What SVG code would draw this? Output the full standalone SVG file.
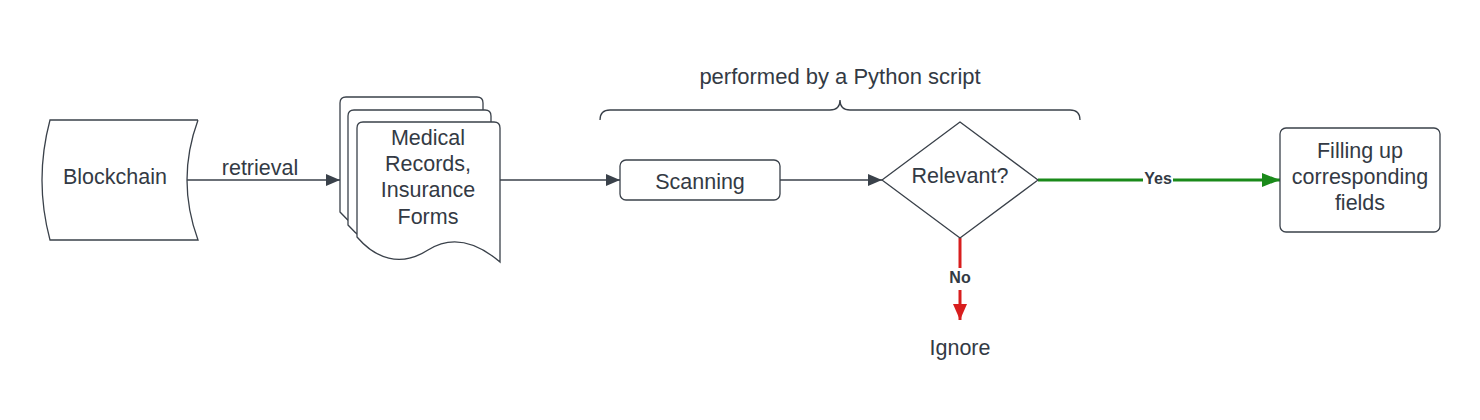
<svg xmlns="http://www.w3.org/2000/svg" width="1480" height="420" viewBox="0 0 1480 420">
<style>
.shape{fill:#fff;stroke:#3a414a;stroke-width:1.3}
.t{font-family:"Liberation Sans",Arial,sans-serif;font-size:21.5px;fill:#333a44;text-anchor:middle}
.lbl{font-family:"Liberation Sans",Arial,sans-serif;font-size:16px;font-weight:bold;fill:#333a44;text-anchor:middle}
.c{fill:none;stroke:#3a414a;stroke-width:1.3}
.g{fill:none;stroke:#1a8a1a;stroke-width:3}
.r{fill:none;stroke:#d81e1e;stroke-width:3}
</style>
<defs>
<marker id="ah" viewBox="0 0 14 12" refX="14" refY="6" markerWidth="14" markerHeight="12" markerUnits="userSpaceOnUse" orient="auto"><path d="M0,0 L14,6 L0,12 Z" fill="#3a414a"/></marker>
<marker id="ahg" viewBox="0 0 18 14" refX="18" refY="7" markerWidth="18" markerHeight="14" markerUnits="userSpaceOnUse" orient="auto"><path d="M0,0 L18,7 L0,14 Z" fill="#1a8a1a"/></marker>
<marker id="ahr" viewBox="0 0 16 14" refX="16" refY="7" markerWidth="16" markerHeight="14" markerUnits="userSpaceOnUse" orient="auto"><path d="M0,0 L16,7 L0,14 Z" fill="#d81e1e"/></marker>
<path id="doc" d="M0,115 L0,6 Q0,0 6,0 L137,0 Q143,0 143,6 L143,140 C123,123 98,111 71,128 C43,146 18,136 0,115 Z"/>
</defs>

<g id="brace">
<path class="c" d="M600,120 Q600,110 610,110 L830,110 Q840,110 840,100 Q840,110 850,110 L1070,110 Q1080,110 1080,120"/>
<text class="t" x="840" y="84" style="font-size:22px">performed by a Python script</text>
</g>

<g id="connectors">
<line class="c" x1="187" y1="180" x2="340" y2="180" marker-end="url(#ah)"/>
<text class="t" x="260" y="175">retrieval</text>
<line class="c" x1="500" y1="180" x2="620" y2="180" marker-end="url(#ah)"/>
<line class="c" x1="780" y1="180" x2="882" y2="180" marker-end="url(#ah)"/>
<line class="g" x1="1038" y1="180" x2="1280" y2="180" marker-end="url(#ahg)"/>
<rect x="1143" y="170" width="30" height="18" fill="#fff"/>
<text class="lbl" x="1158" y="184">Yes</text>
<line class="r" x1="960" y1="238" x2="960" y2="268"/>
<line class="r" x1="960" y1="290" x2="960" y2="320" marker-end="url(#ahr)"/>
<text class="lbl" x="960" y="283">No</text>
</g>

<g id="blockchain">
<path class="shape" d="M198,120 L50,120 Q34,180 50,240 L198,240 Q176,180 198,120"/>
<text class="t" x="115" y="184">Blockchain</text>
</g>

<g id="documents">
<use href="#doc" class="shape" transform="translate(340,97)"/>
<use href="#doc" class="shape" transform="translate(348,110)"/>
<use href="#doc" class="shape" transform="translate(357,122)"/>
<text class="t" x="428" y="145">Medical</text>
<text class="t" x="428" y="171">Records,</text>
<text class="t" x="428" y="197">Insurance</text>
<text class="t" x="428" y="224">Forms</text>
</g>

<g id="scanning">
<rect class="shape" x="620" y="160" width="160" height="40" rx="6"/>
<text class="t" x="700" y="189">Scanning</text>
</g>

<g id="relevant">
<path class="shape" d="M882,180 L960,122 L1038,180 L960,238 Z" stroke-linejoin="round"/>
<text class="t" x="960" y="183">Relevant?</text>
</g>

<g id="filling">
<rect class="shape" x="1280" y="128" width="160" height="104" rx="6"/>
<text class="t" x="1360" y="158">Filling up</text>
<text class="t" x="1360" y="184">corresponding</text>
<text class="t" x="1360" y="210">fields</text>
</g>

<g id="ignore">
<text class="t" x="960" y="355">Ignore</text>
</g>
</svg>
